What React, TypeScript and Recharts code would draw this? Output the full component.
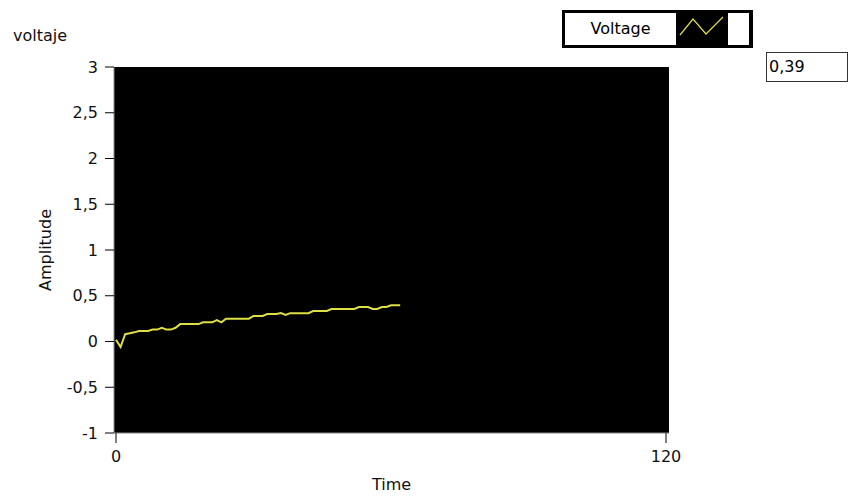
import React from 'react';
import { LineChart, Line, XAxis, YAxis, CartesianGrid, Legend } from 'recharts';

const times: number[] = Array.from({ length: 63 }, (_, i) => i);
const voltage: number[] = [
  0.02, -0.06, 0.08, 0.09, 0.1, 0.115, 0.115, 0.115, 0.13, 0.13,
  0.15, 0.13, 0.13, 0.15, 0.19, 0.19, 0.19, 0.19, 0.19, 0.21,
  0.21, 0.21, 0.235, 0.21, 0.25, 0.25, 0.25, 0.25, 0.25, 0.25,
  0.28, 0.28, 0.28, 0.3, 0.3, 0.3, 0.31, 0.29, 0.31, 0.31,
  0.31, 0.31, 0.31, 0.333, 0.333, 0.333, 0.333, 0.355, 0.355, 0.355,
  0.355, 0.355, 0.355, 0.377, 0.377, 0.377, 0.355, 0.355, 0.377, 0.377,
  0.395, 0.395, 0.395,
];
const xTicks: number[] = [0, 120];
const yTicks: number[] = [-1, -0.5, 0, 0.5, 1, 1.5, 2, 2.5, 3];
const seriesName = 'Voltage';
const chartTitle = 'voltaje';
const currentValue = '0,39';

const data = times.map((t, i) => ({ t, v: voltage[i] }));

const FONT = '"DejaVu Sans", sans-serif';
const fmt = (v: number) => String(v).replace('.', ',');

const LegendBox = () => (
  <div
    style={{
      width: 191,
      height: 38,
      background: '#000',
      position: 'relative',
      boxSizing: 'border-box',
      fontFamily: FONT,
    }}
  >
    <div
      style={{
        position: 'absolute',
        left: 3,
        top: 3,
        width: 111,
        height: 32,
        background: '#fff',
        fontSize: 16,
        color: '#000',
        lineHeight: '32px',
        textAlign: 'center',
      }}
    >
      {seriesName}
    </div>
    <svg style={{ position: 'absolute', left: 115, top: 3 }} width={50} height={32}>
      <polyline
        points="3,22 16,6 29,21 46,4"
        fill="none"
        stroke="#dede45"
        strokeWidth={1.2}
      />
    </svg>
    <div
      style={{
        position: 'absolute',
        left: 166,
        top: 3,
        width: 21,
        height: 32,
        background: '#fff',
      }}
    />
  </div>
);

export default function App() {
  return (
    <div
      style={{
        position: 'absolute',
        left: 0,
        top: 0,
        width: 851,
        height: 496,
        background: '#fff',
        fontFamily: FONT,
      }}
    >
      <div
        style={{
          position: 'absolute',
          left: 13,
          top: 26,
          fontSize: 16,
          color: '#111',
          fontFamily: FONT,
        }}
      >
        {chartTitle}
      </div>
      <div
        style={{
          position: 'absolute',
          left: 766,
          top: 52,
          width: 82,
          height: 30,
          boxSizing: 'border-box',
          border: '1px solid #333',
          background: '#fff',
          fontSize: 16,
          lineHeight: '28px',
          paddingLeft: 2,
          color: '#000',
          fontFamily: FONT,
        }}
      >
        {currentValue}
      </div>
      <LineChart
        width={851}
        height={496}
        data={data}
        margin={{ top: 67, right: 182, bottom: 0, left: 0 }}
      >
        <CartesianGrid horizontal={false} vertical={false} fill="#000" />
        <XAxis
          dataKey="t"
          type="number"
          domain={[0, 120]}
          ticks={xTicks}
          padding={{ left: 2, right: 3 }}
          height={63}
          tickSize={10}
          tickMargin={8}
          axisLine={{ stroke: '#8a8a8a' }}
          tickLine={{ stroke: '#000' }}
          tick={{ fill: '#111', fontSize: 16, fontFamily: FONT }}
          label={{
            value: 'Time',
            position: 'insideBottom',
            offset: 6,
            fill: '#111',
            fontSize: 16,
            fontFamily: FONT,
          }}
        />
        <XAxis
          xAxisId="top"
          orientation="top"
          type="number"
          domain={[0, 120]}
          height={0}
          tick={false}
          tickLine={false}
          axisLine={{ stroke: '#b0b0b0' }}
        />
        <YAxis
          type="number"
          domain={[-1, 3]}
          ticks={yTicks}
          width={114}
          tickSize={9}
          tickMargin={7}
          interval={0}
          tickFormatter={fmt}
          axisLine={{ stroke: '#8a8a8a' }}
          tickLine={{ stroke: '#000' }}
          tick={{ fill: '#111', fontSize: 16, fontFamily: FONT }}
          label={{
            value: 'Amplitude',
            angle: -90,
            position: 'center',
            dx: -12,
            fill: '#111',
            fontSize: 16,
            fontFamily: FONT,
          }}
        />
        <YAxis
          yAxisId="right"
          orientation="right"
          type="number"
          domain={[-1, 3]}
          width={0}
          tick={false}
          tickLine={false}
          axisLine={{ stroke: '#b0b0b0' }}
        />
        <Legend
          layout="horizontal"
          verticalAlign="middle"
          align="center"
          content={() => <LegendBox />}
          wrapperStyle={{ position: 'absolute', left: 562, top: 10, width: 191, height: 38 }}
        />
        <Line
          type="linear"
          dataKey="v"
          name={seriesName}
          stroke="#dede45"
          strokeWidth={2}
          dot={false}
          activeDot={false}
          isAnimationActive={false}
        />
      </LineChart>
    </div>
  );
}
